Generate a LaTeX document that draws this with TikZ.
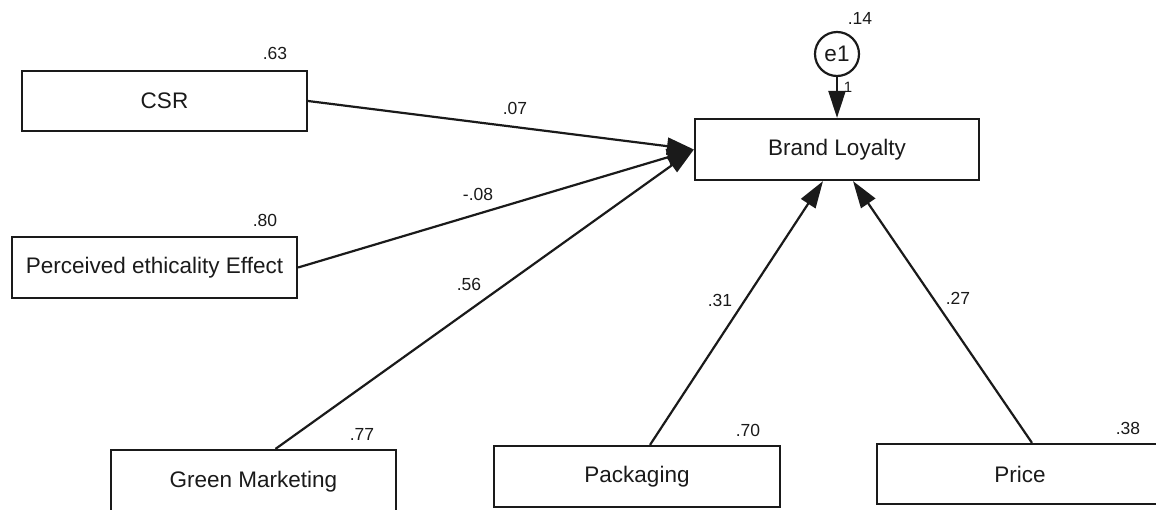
\documentclass[tikz,border=0pt]{standalone}
\usepackage{fontspec}
\setmainfont{Liberation Sans}
\usetikzlibrary{arrows.meta}
\definecolor{ink}{HTML}{1A1A1A}
\tikzset{
  var/.style={draw=ink, line width=2.2pt, rectangle, inner sep=0pt, text=ink,
    font=\fontsize{22.5}{25}\selectfont},
  est/.style={inner sep=0pt, text=ink, font=\fontsize{17.5}{19}\selectfont},
  path/.style={draw=ink, line width=2.2pt, -{Triangle[length=27pt,width=17pt]}},
  errc/.style={draw=ink, line width=2.2pt, circle, minimum size=44pt, inner sep=0pt, text=ink,
    font=\fontsize{22.5}{25}\selectfont}
}
\begin{document}
\begin{tikzpicture}[x=1pt,y=-1pt]
\useasboundingbox (0,0) rectangle (1156,509);
% variables
\node[var, minimum width=285pt, minimum height=60pt] (csr) at (164.5,101) {CSR};
\node[var, minimum width=285pt, minimum height=61pt] (pee) at (154.5,267.5) {Perceived ethicality Effect};
\node[var, minimum width=284pt, minimum height=61pt] (bl) at (837,149.5) {Brand Loyalty};
\node[var, minimum width=285pt, minimum height=64pt] (gm) at (253.5,482) {Green Marketing};
\node[var, minimum width=286pt, minimum height=61pt] (pk) at (637,476.5) {Packaging};
\node[var, minimum width=286pt, minimum height=60pt] (pr) at (1020,474) {Price};
\node[errc] (e1) at (837,54) {e1};
% estimates
\node[est] (v63) at (275,53) {.63};
\node[est] (v80) at (265,220) {.80};
\node[est] (v77) at (362,434) {.77};
\node[est] (v70) at (748,430) {.70};
\node[est] (v38) at (1128,428) {.38};
\node[est] (v14) at (860,18) {.14};
\node[est, font=\fontsize{15}{16}\selectfont] (one) at (848,87) {1};
\node[est] (p07) at (515,108) {.07};
\node[est] (p08) at (478,194) {-.08};
\node[est] (p56) at (469,284) {.56};
\node[est] (p31) at (720,300) {.31};
\node[est] (p27) at (958,298) {.27};
% paths
\draw[path] (csr.east) -- (bl.west);
\draw[path] (pee.east) -- (bl.west);
\draw[path] ([xshift=22pt]gm.north) -- (bl.west);
\draw[path] ([xshift=13pt]pk.north) -- ([xshift=-14pt]bl.south);
\draw[path] ([xshift=12pt]pr.north) -- ([xshift=16pt]bl.south);
\draw[path] (e1.south) -- (bl.north);
\end{tikzpicture}
\end{document}
